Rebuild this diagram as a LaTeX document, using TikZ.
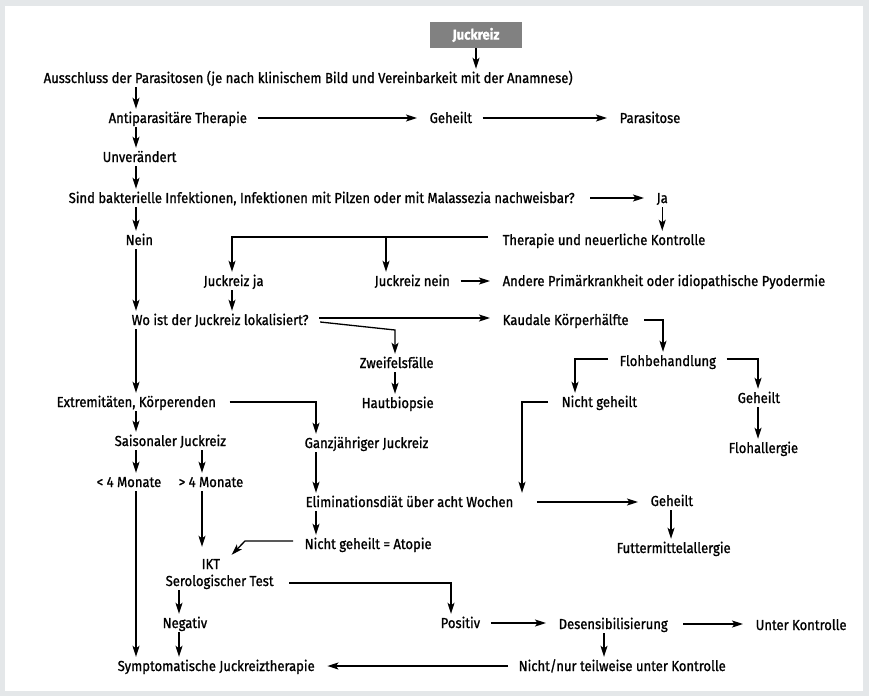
\documentclass[tikz,border=0pt]{standalone}
\usepackage{fontspec}
\setmainfont{Fira Sans}[FakeStretch=0.90,FakeBold=1.1]
\usetikzlibrary{arrows.meta}
\definecolor{framegrey}{HTML}{E4E7E9}
\definecolor{boxgrey}{HTML}{818181}
\begin{document}
\begin{tikzpicture}[x=1pt,y=-1pt,
  txt/.style={anchor=west,inner sep=1.5pt,text height=12.5pt,text depth=2.5pt,font=\fontsize{14.5pt}{16pt}\selectfont},
  ln/.style={line width=1.3pt},
  arr/.style={ln,-{Stealth[length=11pt,width=7pt,inset=2.5pt]}},
  harr/.style={arr,shorten <=9pt,shorten >=11pt},
  topbox/.style={fill=boxgrey,text=white,minimum width=92pt,minimum height=26pt,inner sep=0pt,font=\fontsize{14.5pt}{16pt}\selectfont\bfseries}]
\useasboundingbox (0,0) rectangle (869,696);
\fill[framegrey] (0,0) rectangle (869,696);
\fill[white] (5,6) rectangle (863,691);
% columns
\coordinate (xA) at (136,0);
\coordinate (xJJ) at (232,0);
\coordinate (xJN) at (386,0);
\coordinate (xZ) at (395,0);
\coordinate (xK) at (663,0);
\coordinate (xNG) at (575,0);
\coordinate (xGt) at (758,0);
\coordinate (xE) at (522,0);
\coordinate (xGz) at (316,0);
\coordinate (xB) at (202,0);
\coordinate (xF) at (671,0);
\coordinate (xP) at (451,0);
\coordinate (xN) at (179,0);
\coordinate (xD) at (604,0);
% nodes
\node[topbox] (juck) at (476,35) {Juckreiz};
\node[txt] (aus) at (42,78) {Ausschluss der Parasitosen (je nach klinischem Bild und Vereinbarkeit mit der Anamnese)};
\node[txt] (anti) at (107,118) {Antiparasitäre Therapie};
\node[txt] (geha) at (428,118) {Geheilt};
\node[txt] (para) at (618,118) {Parasitose};
\node[txt] (unv) at (101,157) {Unverändert};
\node[txt] (sind) at (67,198) {Sind bakterielle Infektionen, Infektionen mit Pilzen oder mit Malassezia nachweisbar?};
\node[txt] (ja) at (655,198) {Ja};
\node[txt] (ther) at (501,240) {Therapie und neuerliche Kontrolle};
\node[txt] (nein) at (124,240) {Nein};
\node[txt] (jja) at (202,281) {Juckreiz ja};
\node[txt] (jnein) at (373,281) {Juckreiz nein};
\node[txt] (andere) at (501,281) {Andere Primärkrankheit oder idiopathische Pyodermie};
\node[txt] (wo) at (130,320) {Wo ist der Juckreiz lokalisiert?};
\node[txt] (kaud) at (501,320) {Kaudale Körperhälfte};
\node[txt] (zweif) at (358,363) {Zweifelsfälle};
\node[txt] (haut) at (360,403) {Hautbiopsie};
\node[txt] (floh) at (618,361) {Flohbehandlung};
\node[txt] (ngeh) at (560,402) {Nicht geheilt};
\node[txt] (gehb) at (736,398) {Geheilt};
\node[txt] (flohall) at (727,448) {Flohallergie};
\node[txt] (extr) at (55,402) {Extremitäten, Körperenden};
\node[txt] (ganz) at (303,443) {Ganzjähriger Juckreiz};
\node[txt] (sais) at (113,441) {Saisonaler Juckreiz};
\node[txt] (lt) at (95,482) {< 4 Monate};
\node[txt] (gt) at (177,482) {> 4 Monate};
\node[txt] (elim) at (304,502) {Eliminationsdiät über acht Wochen};
\node[txt] (gehc) at (649,501) {Geheilt};
\node[txt] (futter) at (615,548) {Futtermittelallergie};
\node[txt] (natop) at (303,544) {Nicht geheilt = Atopie};
\node[txt] (ikt) at (200,564) {IKT};
\node[txt] (sero) at (164,581) {Serologischer Test};
\node[txt] (neg) at (161,623) {Negativ};
\node[txt] (pos) at (439,623) {Positiv};
\node[txt] (desens) at (557,624) {Desensibilisierung};
\node[txt] (unterk) at (754,625) {Unter Kontrolle};
\node[txt] (sympt) at (116,666) {Symptomatische Juckreiztherapie};
\node[txt] (nichtnur) at (517,666) {Nicht/nur teilweise unter Kontrolle};
% bend coordinates
\coordinate (tl) at ([xshift=-13pt,yshift=3pt]ther.west);
\coordinate (zb) at (395,330);
\coordinate (ab) at (245,541);
% connectors
\draw[arr] (juck.south) -- (juck.south |- aus.north);
\draw[arr] (aus.south -| xA) -- (anti.north -| xA);
\draw[harr] (anti.east) -- (anti.east -| geha.west);
\draw[harr] (geha.east) -- (geha.east -| para.west);
\draw[arr] (anti.south -| xA) -- (unv.north -| xA);
\draw[arr] (unv.south -| xA) -- (sind.north -| xA);
\draw[harr,shorten <=14pt] (sind.east) -- (sind.east -| ja.west);
\draw[arr] (ja.south) -- (ja.south |- ther.north);
\draw[arr] (sind.south -| xA) -- (nein.north -| xA);
\draw[arr] (tl) -| (jja.north -| xJJ);
\draw[arr] (tl -| xJN) -- (jnein.north -| xJN);
\draw[harr] (jnein.east) -- (jnein.east -| andere.west);
\draw[arr] (nein.south -| xA) -- (wo.north -| xA);
\draw[arr] (jja.south -| xJJ) -- (wo.north -| xJJ);
\draw[harr] ([yshift=2pt]wo.east) -- ([yshift=2pt]wo.east -| kaud.west);
\draw[arr] ([xshift=10pt,yshift=-2pt]wo.east) -- (zb) -- (zb |- zweif.north);
\draw[arr] (zweif.south -| xZ) -- (haut.north -| xZ);
\draw[arr] ([xshift=14pt]kaud.east) -| (floh.north -| xK);
\draw[arr] ([xshift=-10pt,yshift=2pt]floh.west) -| (ngeh.north -| xNG);
\draw[arr] ([xshift=9pt,yshift=2pt]floh.east) -| (gehb.north -| xGt);
\draw[arr] (gehb.south -| xGt) -- (flohall.north -| xGt);
\draw[arr] ([xshift=-12pt]ngeh.west) -| (elim.north -| xE);
\draw[arr] (wo.south -| xA) -- (extr.north -| xA);
\draw[arr] ([xshift=12pt]extr.east) -| (ganz.north -| xGz);
\draw[arr] (extr.south -| xA) -- (sais.north -| xA);
\draw[arr] (sais.south -| xA) -- (lt.north -| xA);
\draw[arr] (sais.south -| xB) -- (gt.north -| xB);
\draw[arr] (ganz.south -| xGz) -- (elim.north -| xGz);
\draw[harr,shorten <=22pt] (elim.east) -- (elim.east -| gehc.west);
\draw[arr] (gehc.south -| xF) -- (futter.north -| xF);
\draw[arr] (elim.south -| xGz) -- (natop.north -| xGz);
\draw[arr] ([xshift=-10pt,yshift=3pt]natop.west) -- (ab) -- ([xshift=10pt]ikt.north east);
\draw[arr] (gt.south -| xB) -- ([yshift=8pt]ikt.north -| xB);
\draw[arr] ([xshift=14pt,yshift=-2pt]sero.east) -| (pos.north -| xP);
\draw[arr] (sero.south -| xN) -- (neg.north -| xN);
\draw[arr] (neg.south -| xN) -- (sympt.north -| xN);
\draw[arr] (lt.south -| xA) -- (sympt.north -| xA);
\draw[harr] (pos.east) -- (pos.east -| desens.west);
\draw[harr,shorten <=14pt] (desens.east) -- (desens.east -| unterk.west);
\draw[arr] (desens.south -| xD) -- (nichtnur.north -| xD);
\draw[harr] (nichtnur.west) -- (nichtnur.west -| sympt.east);
\end{tikzpicture}
\end{document}
